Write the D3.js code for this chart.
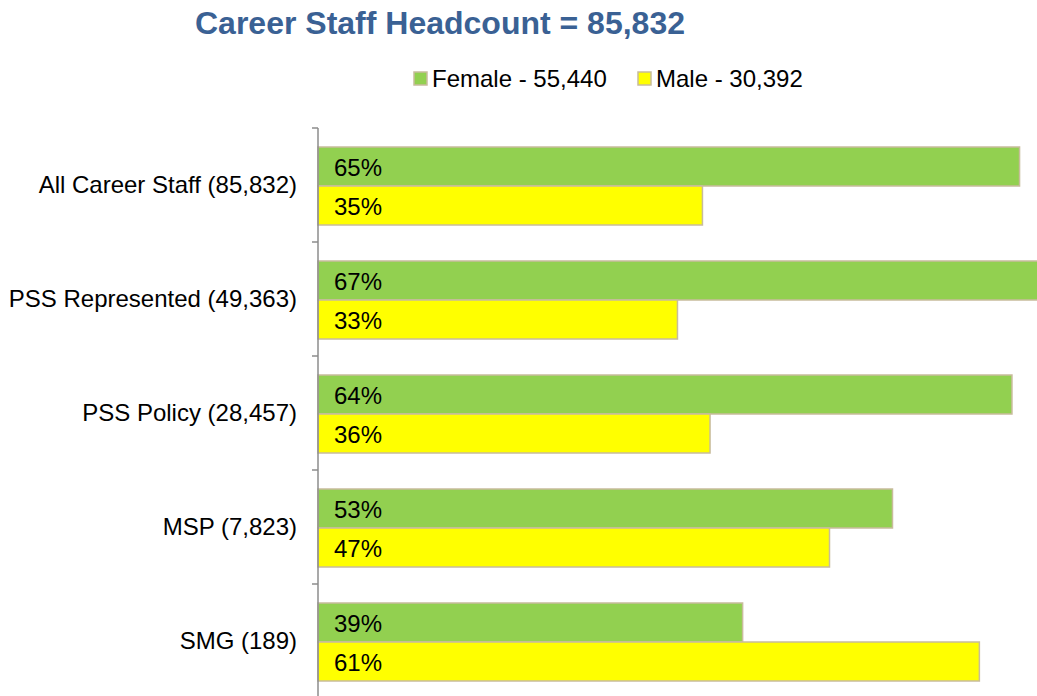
<!DOCTYPE html>
<html>
<head>
<meta charset="utf-8">
<script src="https://cdn.jsdelivr.net/npm/d3@7"></script>
<style>
  body { margin: 0; background: #fff; }
  text { font-family: "Liberation Sans", Arial, sans-serif; }
</style>
</head>
<body>
<div id="chart"></div>
<script>
// data
const categories = ["All Career Staff (85,832)", "PSS Represented (49,363)", "PSS Policy (28,457)", "MSP (7,823)", "SMG (189)"]
const female = [64.6, 66.9, 63.9, 52.9, 39.1]
const male = [35.4, 33.1, 36.1, 47.1, 60.9]
const seriesNames = ["Female - 55,440", "Male - 30,392"]
const colors = ["#92D050", "#FFFF00"]

const width = 1037, height = 696
const svg = d3.select("#chart").append("svg")
    .attr("width", width)
    .attr("height", height)

const x0 = 318
const xScale = d3.scaleLinear().domain([0, 100]).range([x0, x0 + 1086])

const yScale = d3.scaleBand()
    .domain(categories)
    .range([128, 128 + 114 * categories.length])

const inner = d3.scaleBand()
    .domain([0, 1])
    .range([19, 114 - 17])

// title
svg.append("text")
    .attr("x", 440)
    .attr("y", 34)
    .attr("text-anchor", "middle")
    .style("font-size", "32px")
    .style("font-weight", "bold")
    .style("fill", "#3A6194")
    .text("Career Staff Headcount = 85,832")

// legend
const legendX = [414, 638]
seriesNames.forEach((n, i) => {
    svg.append("rect")
        .attr("x", legendX[i])
        .attr("y", 72)
        .attr("width", 13)
        .attr("height", 13)
        .style("fill", colors[i])
        .style("stroke", "#C8BC9C")
        .style("stroke-width", 1.5)
    svg.append("text")
        .attr("x", legendX[i] + 18)
        .attr("y", 87)
        .style("font-size", "24px")
        .style("fill", "#000")
        .text(n)
})

// bars
const rows = categories.map((c, i) => ({ cat: c, vals: [female[i], male[i]] }))

const groups = svg.selectAll(".row")
    .data(rows)
    .enter()
    .append("g")
    .attr("class", "row")
    .attr("transform", d => "translate(0," + yScale(d.cat) + ")")

groups.selectAll("rect")
    .data(d => d.vals)
    .enter()
    .append("rect")
    .attr("x", xScale(0))
    .attr("y", (d, i) => inner(i))
    .attr("width", d => xScale(d) - xScale(0))
    .attr("height", inner.bandwidth())
    .style("fill", (d, i) => colors[i])
    .style("stroke", "#C8BC9C")
    .style("stroke-width", 1.5)

groups.selectAll(".lbl")
    .data(d => d.vals)
    .enter()
    .append("text")
    .attr("class", "lbl")
    .attr("x", xScale(0) + 16)
    .attr("y", (d, i) => inner(i) + inner.bandwidth() / 2 + 9)
    .style("font-size", "24px")
    .style("fill", "#000")
    .text(d => Math.round(d) + "%")

// axis
const axis = svg.append("g")
    .attr("transform", "translate(" + x0 + ",0)")
    .call(d3.axisLeft(yScale).tickSize(0).tickPadding(21))
axis.select(".domain").remove()
axis.selectAll("text")
    .attr("dy", "0.35em")
    .style("font-size", "24px")
    .style("font-family", "'Liberation Sans', Arial, sans-serif")
    .style("fill", "#000")

svg.append("line")
    .attr("x1", x0).attr("x2", x0)
    .attr("y1", yScale.range()[0]).attr("y2", height)
    .style("stroke", "#8C8C8C")
    .style("stroke-width", 1.5)

svg.selectAll(".tk")
    .data(categories.map((c, i) => yScale(c)).concat([yScale.range()[1]]))
    .enter()
    .append("line")
    .attr("class", "tk")
    .attr("x1", x0 - 6).attr("x2", x0)
    .attr("y1", d => d).attr("y2", d => d)
    .style("stroke", "#8C8C8C")
    .style("stroke-width", 1.5)
</script>
</body>
</html>
